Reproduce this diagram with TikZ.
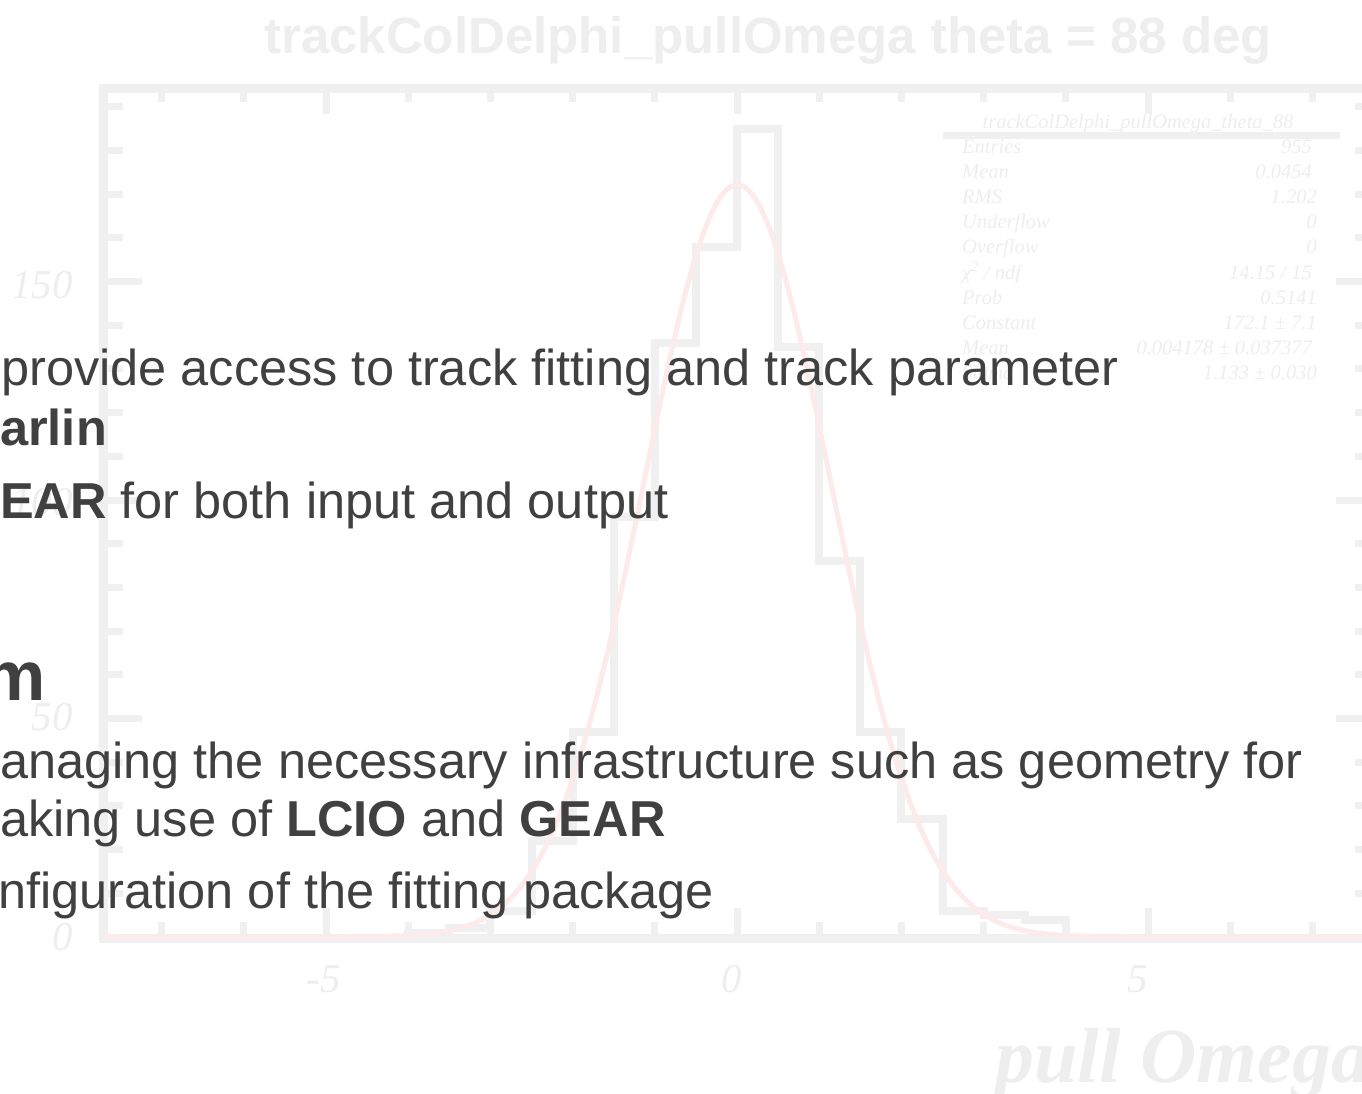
\documentclass[tikz,border=0pt]{standalone}
\usepackage{fontspec}
\setmainfont{Liberation Sans}
\newfontfamily\rootserif{Liberation Serif}
\definecolor{bodytext}{HTML}{404040}
\definecolor{ghost}{HTML}{EEEEEE}
\definecolor{ghostline}{HTML}{F0F0F0}
\definecolor{fitred}{HTML}{FDEAEA}
\begin{document}
\begin{tikzpicture}[x=1pt,y=-1pt,
  body/.style={anchor=base west, inner sep=0pt, text=bodytext, font=\fontsize{50.5}{60}\selectfont},
  headline/.style={anchor=base west, inner sep=0pt, text=bodytext, font=\fontsize{70}{84}\selectfont\bfseries},
  statlbl/.style={anchor=base west, inner sep=0pt, text=ghost, font=\rootserif\itshape\fontsize{20.5}{24}\selectfont},
  statval/.style={anchor=base east, inner sep=0pt, text=ghost, font=\rootserif\itshape\fontsize{20.5}{24}\selectfont},
  axlbl/.style={inner sep=0pt, text=ghost, font=\rootserif\itshape\fontsize{41}{48}\selectfont},
  framestyle/.style={draw=ghostline, line width=9pt},
  tickstyle/.style={draw=ghostline, line width=7pt},
  histo/.style={draw=ghostline, line width=8pt, line join=miter},
  fitcurve/.style={draw=fitred, line width=5pt}]
\useasboundingbox (0,0) rectangle (1362,1093);
\fill[white] (0,0) rectangle (1362,1093);
\clip (0,0) rectangle (1362,1093);

% ---------- faded histogram background ----------
\node[inner sep=0pt, anchor=base, text=ghost, font=\fontsize{51}{60}\selectfont\bfseries] (title) at (768,53) {trackColDelphi\_pullOmega theta = 88 deg};

\draw[framestyle] (103,88) rectangle (1375,938);

% x ticks (top and bottom)
\foreach \u in {-7,-6,-4,-3,-2,-1,1,2,3,4,6,7}{
  \draw[tickstyle] ({737+82.2*\u},92) -- ({737+82.2*\u},102);
  \draw[tickstyle] ({737+82.2*\u},934) -- ({737+82.2*\u},922);
}
\foreach \u in {-5,0,5}{
  \draw[tickstyle] ({737+82.2*\u},92) -- ({737+82.2*\u},114);
  \draw[tickstyle] ({737+82.2*\u},934) -- ({737+82.2*\u},908);
}
% y ticks (left and right)
\foreach \c in {10,20,30,40,60,70,80,90,110,120,130,140,160,170,180,190}{
  \draw[tickstyle] (107,{937-4.37*\c}) -- (123,{937-4.37*\c});
  \draw[tickstyle] (1371,{937-4.37*\c}) -- (1355,{937-4.37*\c});
}
\foreach \c in {50,100,150}{
  \draw[tickstyle] (107,{937-4.37*\c}) -- (142,{937-4.37*\c});
  \draw[tickstyle] (1371,{937-4.37*\c}) -- (1336,{937-4.37*\c});
}

% axis labels
\node[axlbl, anchor=base east] (y150) at (73,298) {150};
\node[axlbl, anchor=base east] (y100) at (73,515) {100};
\node[axlbl, anchor=base east] (y50) at (73,730) {50};
\node[axlbl, anchor=base east] (y0) at (73,950) {0};
\node[axlbl, anchor=base] (xm5) at (324,992) {-5};
\node[axlbl, anchor=base] (x0) at (732,992) {0};
\node[axlbl, anchor=base] (x5) at (1138,992) {5};
\node[inner sep=0pt, anchor=base west, text=ghost, font=\rootserif\bfseries\itshape\fontsize{78}{90}\selectfont] (xtitle) at (995,1082) {pull Omega};

% histogram and fit
\begin{scope}[shift={(737,937)}, x=82.2pt, y=4.37pt]
\draw[histo] (-4,0) -- (-4,1) -- (-3.5,1) -- (-3.5,2) -- (-3,2) -- (-3,6) -- (-2.5,6) -- (-2.5,22) -- (-2,22) -- (-2,47) -- (-1.5,47) -- (-1.5,96) -- (-1,96) -- (-1,136) -- (-0.5,136) -- (-0.5,158) -- (0,158) -- (0,185) -- (0.5,185) -- (0.5,135) -- (1,135) -- (1,86) -- (1.5,86) -- (1.5,47) -- (2,47) -- (2,27) -- (2.5,27) -- (2.5,6) -- (3,6) -- (3,5) -- (3.5,5) -- (3.5,4) -- (4,4) -- (4,0);
\draw[fitcurve] plot[domain=-7.7:7.7, samples=241, smooth] (\x, {172.1*exp(-1*((\x-0.004)*(\x-0.004))/2.567378)});
\end{scope}

% stats box
\node[inner sep=0pt, anchor=base, text=ghost, font=\rootserif\itshape\fontsize{20.5}{24}\selectfont] (sttitle) at (1138,128) {trackColDelphi\_pullOmega\_theta\_88};
\draw[draw=ghostline, line width=7pt] (943,135) -- (1340,135);
\node[statlbl] (l1) at (962,153) {Entries};
\node[statval] (v1) at (1312,153) {955};
\node[statlbl] (l2) at (962,178.2) {Mean};
\node[statval] (v2) at (1312,178.2) {0.0454};
\node[statlbl] (l3) at (962,203.4) {RMS};
\node[statval] (v3) at (1317,203.4) {1.202};
\node[statlbl] (l4) at (962,228.6) {Underflow};
\node[statval] (v4) at (1317,228.6) {0};
\node[statlbl] (l5) at (962,253.8) {Overflow};
\node[statval] (v5) at (1317,253.8) {0};
\node[statlbl] (l6) at (962,279) {χ\textsuperscript{2} / ndf};
\node[statval] (v6) at (1312,279) {14.15 / 15};
\node[statlbl] (l7) at (962,304.2) {Prob};
\node[statval] (v7) at (1317,304.2) {0.5141};
\node[statlbl] (l8) at (962,329.4) {Constant};
\node[statval] (v8) at (1317,329.4) {172.1 ± 7.1};
\node[statlbl] (l9) at (962,354.6) {Mean};
\node[statval] (v9) at (1312,354.6) {0.004178 ± 0.037377};
\node[statlbl] (l10) at (962,379.8) {Sigma};
\node[statval] (v10) at (1317,379.8) {1.133 ± 0.030};

% ---------- foreground slide text ----------
\node[body] (t1) at (1,385) {provide access to track fitting and track parameter};
\node[body] (t2) at (0,445) {\textbf{arlin}};
\node[body] (t3) at (0,518) {\textbf{EAR} for both input and output};
\node[headline] (t4) at (-17,700) {m};
\node[body] (t5) at (0,778) {anaging the necessary infrastructure such as geometry for};
\node[body] (t6) at (0,836) {aking use of \textbf{LCIO} and \textbf{GEAR}};
\node[body] (t7) at (-2,908) {nfiguration of the fitting package};
\end{tikzpicture}
\end{document}
